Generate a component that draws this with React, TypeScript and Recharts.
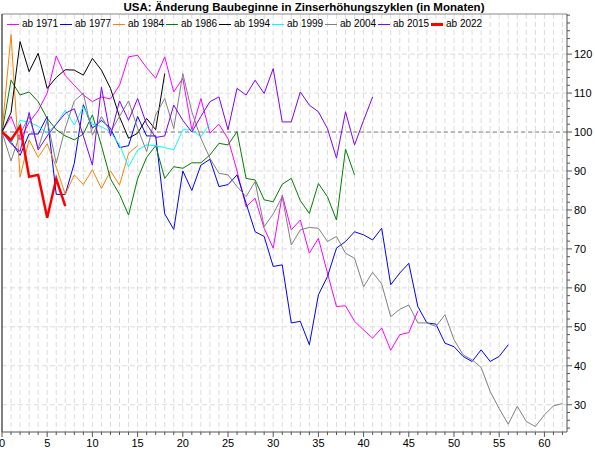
import React from 'react';
import { LineChart, Line, XAxis, YAxis, CartesianGrid, ReferenceLine } from 'recharts';

// Werte je Monat ab Beginn des Zinserhöhungszyklus (Monat 0 = 100)
const AB_1971 = [100, 104, 98, 102.5, 105.5, 110, 119.5, 114.5, 112, 109.5, 107.8, 109, 108.5, 112, 119.3, 119.7, 116.5, 113.8, 119.3, 110.3, 113.8, 100.5, 108.6, 99.7, 102, 98.3, 90, 80.8, 83, 75.3, 70.2, 83.8, 74.9, 77.4, 68.9, 72.7, 63.8, 55.2, 55.4, 51.4, 49.2, 47.1, 49.7, 44, 48, 48.5, 54];
const AB_1977 = [100, 97.5, 94, 99.5, 99.5, 104, 84, 84, 92, 107, 101, 103, 101, 96, 96.5, 104, 99, 99, 79, 75, 90, 85, 91.5, 93, 86, 86.5, 89, 81.7, 74.4, 73.2, 65.5, 65.9, 51, 51.4, 45.4, 58.2, 62.9, 70.2, 71.9, 74.4, 73.6, 72.3, 75.3, 60.8, 63.8, 66.3, 55.2, 51, 50.7, 45.8, 44.9, 42.4, 41.1, 44.1, 41.1, 42.4, 45.4];
const AB_1984 = [100, 125, 88.5, 98, 93.5, 97, 91, 84, 89, 86.5, 90.3, 85.5, 90, 86.4, 94.5, 96.5];
const AB_1986 = [100, 113.3, 109.5, 110.3, 107.8, 103.5, 100.6, 99, 98, 99.5, 104.4, 96.5, 88, 84, 78.7, 88, 93.5, 96.5, 88.1, 91.1, 90.7, 92.1, 92.1, 94.1, 97.1, 96.7, 100.1, 88.1, 87.7, 82.6, 82.1, 86.6, 88.1, 82.4, 79.1, 86.8, 83.4, 77.4, 95.6, 89];
const AB_1994 = [100, 105, 123.2, 115.5, 120.2, 111.2, 114, 116, 115.9, 114.6, 118.9, 115.9, 111.2, 103.9, 98.4, 99.7, 103.5, 100.6, 115];
const AB_1999 = [100, 97, 103, 102.5, 101.5, 99.7, 102, 105.6, 101.8, 106.5, 102, 101.4, 100, 96.7, 91.1, 95.4, 96.7, 96.5, 96, 95.4, 100.6, 100.6, 98.8, 102.2];
const AB_2004 = [100, 92.6, 99.5, 104, 95.8, 103, 92, 101, 108, 110, 99.2, 104, 100, 104, 108, 101, 95, 104.4, 108.6, 100.9, 115, 105.2, 98.4, 93.3, 89.4, 89, 86, 83.4, 87.3, 75.7, 79, 83.4, 71, 74.9, 75.5, 75.3, 71.9, 73.2, 68.9, 67.6, 60.3, 64, 61, 52.6, 54.5, 55.6, 51, 51, 50.1, 53.1, 46.7, 42.8, 41.5, 39.6, 33.4, 29, 25, 29.6, 25.7, 24.4, 27.4, 29.7, 30.3];
const AB_2015 = [100, 97, 95, 105, 95.4, 99, 102, 104.8, 106, 99, 91.5, 111.5, 99, 108, 103, 108.6, 102, 98.6, 99, 106.9, 103, 100, 104, 107.8, 109, 100.6, 111.2, 109.5, 113.3, 109.9, 116.3, 102.6, 102.6, 110.3, 106.9, 105.2, 100.9, 93.3, 105.2, 96.7, 103, 109];
const AB_2022 = [100, 98, 101.5, 88.5, 89, 78, 88, 81];

const SERIES = [
  { name: 'ab 1971', color: '#FF00FF', values: AB_1971 },
  { name: 'ab 1977', color: '#0000FF', values: AB_1977 },
  { name: 'ab 1984', color: '#FF8000', values: AB_1984 },
  { name: 'ab 1986', color: '#008000', values: AB_1986 },
  { name: 'ab 1994', color: '#000000', values: AB_1994 },
  { name: 'ab 1999', color: '#00FFFF', values: AB_1999 },
  { name: 'ab 2004', color: '#808080', values: AB_2004 },
  { name: 'ab 2015', color: '#8000FF', values: AB_2015 },
  { name: 'ab 2022', color: '#FF0000', values: AB_2022, width: 2.5 },
];

const X_LABELS = [0, 5, 10, 15, 20, 25, 30, 35, 40, 45, 50, 55, 60];
const Y_LABELS = [30, 40, 50, 60, 70, 80, 90, 100, 110, 120];
const X_TICKS = Array.from({ length: 63 }, (_, i) => i);
const Y_TICKS = Array.from({ length: 54 }, (_, i) => 24 + i * 2);
const GRID_X = X_TICKS.slice(1);

const rows = X_TICKS.map((m) => {
  const row: Record<string, number> = { m };
  SERIES.forEach((s) => {
    if (m < s.values.length) row[s.name] = s.values[m];
  });
  return row;
});

const FONT = '"Liberation Sans", Arial, sans-serif';
const AXIS = '#555555';

const XTick = (props: any) => {
  const { x, y, payload } = props;
  const major = X_LABELS.includes(payload.value);
  return (
    <g>
      <line x1={x} y1={y} x2={x} y2={y + (major ? 5 : 3)} stroke={AXIS} />
      {major && (
        <text x={x} y={y + 15} textAnchor="middle" fontSize={11} fontFamily={FONT} fill="#000">
          {payload.value}
        </text>
      )}
    </g>
  );
};

const YTick = (props: any) => {
  const { x, y, payload } = props;
  const major = Y_LABELS.includes(payload.value);
  return (
    <g>
      <line x1={x} y1={y} x2={x + (major ? 5 : 3)} y2={y} stroke={AXIS} />
      {major && (
        <text x={x + 7} y={y + 4} textAnchor="start" fontSize={11} fontFamily={FONT} fill="#000">
          {payload.value}
        </text>
      )}
    </g>
  );
};

export default function App() {
  return (
    <div style={{ position: 'absolute', left: 0, top: 0, width: 595, height: 450, background: '#fff' }}>
      <LineChart width={595} height={450} data={rows} margin={{ top: 14, right: 0, bottom: 0, left: 2 }}>
        <CartesianGrid
          stroke="#dcdcdc"
          strokeDasharray="5 3"
          verticalValues={GRID_X}
          horizontalValues={Y_LABELS}
        />
        <XAxis
          dataKey="m"
          type="number"
          domain={[0, 62.5]}
          allowDataOverflow
          ticks={X_TICKS}
          interval={0}
          height={18}
          tickSize={0}
          tickMargin={0}
          tickLine={false}
          axisLine={{ stroke: AXIS }}
          tick={<XTick />}
        />
        <YAxis
          orientation="right"
          type="number"
          domain={[23, 130.3]}
          allowDataOverflow
          ticks={Y_TICKS}
          interval={0}
          width={28}
          tickSize={0}
          tickMargin={0}
          tickLine={false}
          axisLine={{ stroke: AXIS }}
          tick={<YTick />}
        />
        <ReferenceLine y={130.3} stroke="#888888" />
        <ReferenceLine x={0} stroke={AXIS} strokeWidth={1.5} />
        <ReferenceLine y={100} stroke="#808080" strokeDasharray="4 3" />
        {SERIES.map((s) => (
          <Line
            key={s.name}
            dataKey={s.name}
            type="linear"
            stroke={s.color}
            strokeWidth={s.width ?? 1}
            dot={false}
            activeDot={false}
            isAnimationActive={false}
          />
        ))}
      </LineChart>
      <div
        style={{
          position: 'absolute',
          left: 0,
          top: 0,
          width: 608,
          textAlign: 'center',
          fontFamily: FONT,
          fontWeight: 'bold',
          fontSize: 11.5,
          lineHeight: '14px',
          color: '#000',
        }}
      >
        USA: Änderung Baubeginne in Zinserhöhungszyklen (in Monaten)
      </div>
      {SERIES.map((s, i) => (
        <div
          key={s.name}
          style={{ position: 'absolute', left: 7 + i * 53, top: 17, height: 14, fontFamily: FONT, fontSize: 10 }}
        >
          <span
            style={{
              position: 'absolute',
              left: 0,
              top: s.width ? 6 : 7,
              width: 12,
              height: s.width ? 3 : 1,
              background: s.color,
            }}
          />
          <span style={{ position: 'absolute', left: 15, top: 0, lineHeight: '14px', whiteSpace: 'nowrap' }}>
            {s.name}
          </span>
        </div>
      ))}
    </div>
  );
}
